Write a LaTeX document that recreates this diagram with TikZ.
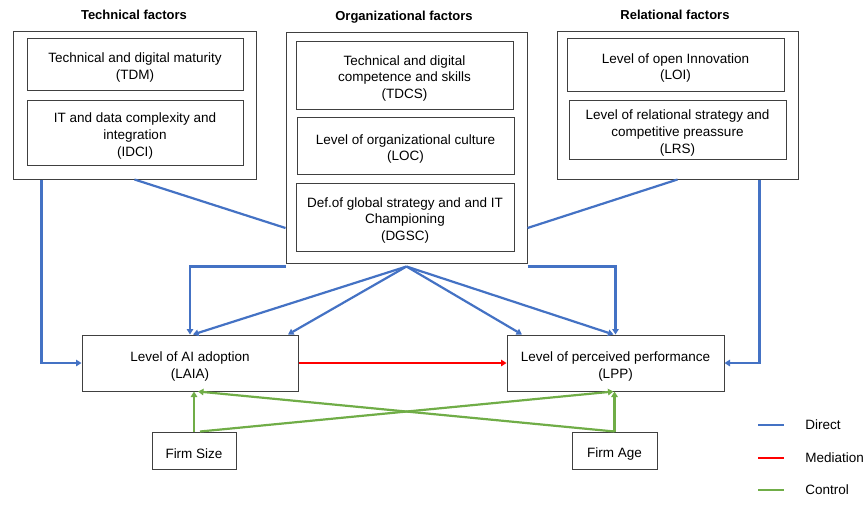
\documentclass[tikz,border=0pt]{standalone}
\usepackage{fontspec}
\setmainfont{Liberation Sans}
\usetikzlibrary{arrows.meta}

\definecolor{boxgray}{HTML}{404040}
\definecolor{directblue}{HTML}{4472C4}
\definecolor{mediationred}{HTML}{FF0000}
\definecolor{controlgreen}{HTML}{70AD47}

\newcommand{\topgap}{\rule{0pt}{16.5pt}}

\begin{document}
\begin{tikzpicture}[x=1pt, y=-1pt,
	every node/.style={font=\fontsize{13.5}{16.7}\selectfont},
	group/.style={draw=boxgray, line width=1pt, inner sep=0pt},
	factor/.style={draw=boxgray, line width=1pt, align=center, inner sep=0pt},
	heading/.style={font=\fontsize{13}{16.5}\selectfont\bfseries},
	link/.style={line width=2.2pt, -{Triangle[length=5.5pt,width=6.5pt]}},
	direct/.style={link, draw=directblue},
	mediation/.style={link, draw=mediationred},
	control/.style={link, draw=controlgreen}]

	\useasboundingbox (0,0) rectangle (865,507);

	% factor groups
	\node[group, minimum width=243pt, minimum height=148pt] (tech) at (134.5,105) {};
	\node[heading] (techtitle) at (134,15) {Technical factors};
	\node[factor, minimum width=216pt, minimum height=52pt] (tdm) at (135,64) {\topgap Technical and digital maturity\\(TDM)};
	\node[factor, minimum width=216pt, minimum height=65pt] (idci) at (135,132.5) {\topgap IT and data complexity and\\integration\\(IDCI)};

	\node[group, minimum width=241pt, minimum height=231pt] (org) at (406.5,147.5) {};
	\node[heading] (orgtitle) at (404,17) {Organizational factors};
	\node[factor, minimum width=217pt, minimum height=68pt] (tdcs) at (404.5,75) {\topgap Technical and digital\\competence and skills\\(TDCS)};
	\node[factor, minimum width=217pt, minimum height=57pt] (loc) at (405.5,145.5) {\topgap Level of organizational culture\\(LOC)};
	\node[factor, minimum width=218pt, minimum height=68pt] (dgsc) at (405,217) {\topgap Def.of global strategy and and IT\\Championing\\(DGSC)};

	\node[group, minimum width=241pt, minimum height=148pt] (rel) at (677.5,105) {};
	\node[heading] (reltitle) at (675,15) {Relational factors};
	\node[factor, minimum width=217pt, minimum height=53pt] (loi) at (675.5,64.5) {\topgap Level of open Innovation\\(LOI)};
	\node[factor, minimum width=217pt, minimum height=59pt] (lrs) at (677.5,129.5) {\topgap Level of relational strategy and\\competitive preassure\\(LRS)};

	% outcomes and controls
	\node[factor, minimum width=216pt, minimum height=56pt] (laia) at (190,363) {\topgap Level of AI adoption\\(LAIA)};
	\node[factor, minimum width=217pt, minimum height=56pt] (lpp) at (615.5,363) {\topgap Level of perceived performance\\(LPP)};
	\node[factor, minimum width=84pt, minimum height=37pt] (size) at (194,450.5) {\topgap Firm Size};
	\node[factor, minimum width=85pt, minimum height=37pt] (age) at (614.5,450.5) {\topgap Firm Age};

	% direct effects
	\draw[direct] ([xshift=29pt]tech.south west) |- (laia.west);
	\draw[direct] ([xshift=-39pt]rel.south east) |- (lpp.east);
	\draw[direct, -] (tech.south) -- ([yshift=-80.5pt]org.west);
	\draw[direct, -] (rel.south) -- ([yshift=-80.5pt]org.east);
	\draw[direct] ([yshift=-3pt]org.south west) -| (laia.north);
	\draw[direct] ([yshift=-3pt]org.south east) -| (lpp.north);

	\coordinate (fan) at ([yshift=-3pt]org.south);
	\draw[direct] (fan) -- ([xshift=3pt]laia.north);
	\draw[direct] (fan) -- ([xshift=98pt]laia.north);
	\draw[direct] (fan) -- ([xshift=-93.5pt]lpp.north);
	\draw[direct] (fan) -- ([xshift=-2pt]lpp.north);

	% mediation
	\draw[mediation] (laia.east) -- (lpp.west);

	% controls
	\draw[control] (size.north) -- (size.north |- laia.south);
	\draw[control] ([xshift=6pt]size.north) -- ([xshift=-2pt]lpp.south);
	\draw[control] (age.north) -- ([xshift=8pt]laia.south);
	\draw[control] (age.north) -- (age.north |- lpp.south);

	% legend
	\foreach \y/\col/\txt in {425/directblue/Direct, 458/mediationred/Mediation, 490/controlgreen/Control}
		\draw[\col, line width=2.2pt] (758,\y) -- (784,\y) node[anchor=west, black, xshift=17pt] {\txt};

\end{tikzpicture}
\end{document}
